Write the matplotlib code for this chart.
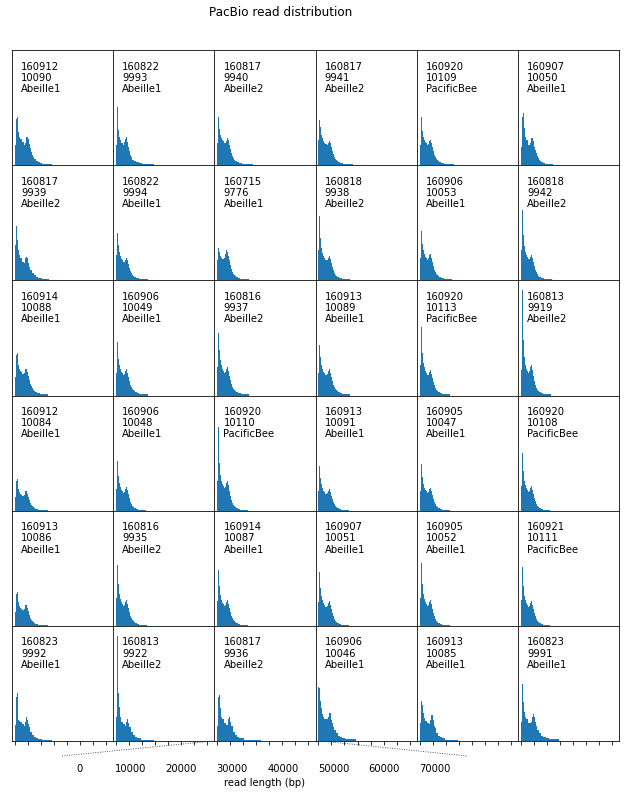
import numpy as np
import matplotlib
matplotlib.use("Agg")
import matplotlib.pyplot as plt
from matplotlib.lines import Line2D

# ---- data -------------------------------------------------------------
dates = ["160912", "160822", "160817", "160817", "160920", "160907",
         "160817", "160822", "160715", "160818", "160906", "160818",
         "160914", "160906", "160816", "160913", "160920", "160813",
         "160912", "160906", "160920", "160913", "160905", "160920",
         "160913", "160816", "160914", "160907", "160905", "160921",
         "160823", "160813", "160817", "160906", "160913", "160823"]
run_ids = ["10090", "9993", "9940", "9941", "10109", "10050",
           "9939", "9994", "9776", "9938", "10053", "9942",
           "10088", "10049", "9937", "10089", "10113", "9919",
           "10084", "10048", "10110", "10091", "10047", "10108",
           "10086", "9935", "10087", "10051", "10052", "10111",
           "9992", "9922", "9936", "10046", "10085", "9991"]
species = ["Abeille1", "Abeille1", "Abeille2", "Abeille2", "PacificBee", "Abeille1",
           "Abeille2", "Abeille1", "Abeille1", "Abeille2", "Abeille1", "Abeille2",
           "Abeille1", "Abeille1", "Abeille2", "Abeille1", "PacificBee", "Abeille2",
           "Abeille1", "Abeille1", "PacificBee", "Abeille1", "Abeille1", "PacificBee",
           "Abeille1", "Abeille2", "Abeille1", "Abeille1", "Abeille1", "PacificBee",
           "Abeille1", "Abeille2", "Abeille2", "Abeille1", "Abeille1", "Abeille1"]

bin_width = 770  # bp
# histogram counts per run (consecutive bins starting at 0 bp)
counts = [
    [20,46,48,33,28,26,26,23,23,20,22,28,28,26,21,17,13,10,8,6,6,4,4,3,3,2,2,1,1,1,1,1,1,1,1,1,1],
    [20,58,35,28,25,22,22,20,23,26,28,23,18,14,10,8,5,5,4,4,3,3,3,2,2,2,1,1,1,1,1,1,1,1,1,1,1,1],
    [22,48,36,30,27,25,24,22,22,24,27,25,20,16,12,9,7,5,4,4,3,3,2,2,2,1,1,1,1,1,1,1,1,1,1,1],
    [25,45,38,30,27,24,22,21,20,22,24,22,18,14,11,8,6,5,4,3,3,2,2,2,1,1,1,1,1,1,1,1,1,1],
    [20,48,34,28,25,23,22,20,21,24,25,22,18,14,10,8,6,5,4,3,3,2,2,2,1,1,1,1,1,1,1,1,1,1],
    [18,48,52,37,28,25,25,20,20,22,27,27,24,18,15,12,9,7,5,4,3,3,2,2,1,1,1,1,1,1,1,1],

    [35,54,40,30,25,22,22,18,18,17,22,23,22,17,13,10,10,7,7,5,5,3,3,2,2,2,2,1,1,1,1,1,1,1],
    [25,47,35,28,24,21,20,18,18,20,22,20,16,12,9,7,5,4,3,3,2,2,2,1,1,1,1,1,1,1,1,1],
    [20,32,28,24,22,21,21,22,26,30,28,24,20,15,11,8,6,5,4,3,3,2,2,1,1,1,1,1,1,1,1,1],
    [30,64,42,32,27,24,22,20,20,22,24,21,17,13,10,7,5,4,3,3,2,2,2,1,1,1,1,1,1,1,1],
    [22,49,36,30,26,23,22,20,22,25,26,22,18,14,10,8,6,5,4,3,3,2,2,2,1,1,1,1,1,1,1,1],
    [30,70,45,34,28,25,23,21,21,23,25,22,18,14,10,8,6,4,3,3,2,2,2,1,1,1,1,1,1,1,1],

    [18,40,42,30,26,24,23,21,21,22,26,26,23,19,15,11,9,7,5,4,3,3,2,2,2,1,1,1,1,1,1,1,1],
    [22,53,36,30,26,23,22,20,21,24,26,22,18,14,10,8,6,5,4,3,3,2,2,1,1,1,1,1,1,1,1,1],
    [28,62,45,35,30,26,24,22,23,26,28,24,19,15,11,8,6,5,4,3,3,2,2,2,1,1,1,1,1,1,1,1],
    [22,50,38,30,26,23,22,20,21,24,26,22,18,14,10,8,6,5,4,3,3,2,2,1,1,1,1,1,1,1,1],
    [30,68,42,32,28,24,22,20,20,23,25,21,17,13,10,7,5,4,3,3,2,2,1,1,1,1,1,1,1,1],
    [25,105,55,38,30,26,24,22,24,28,30,25,19,14,10,7,5,4,3,3,2,2,1,1,1,1,1,1,1,1],

    [14,30,32,22,19,17,16,15,15,16,20,20,17,14,11,8,6,5,4,3,2,2,2,1,1,1,1,1,1,1,1,1,1],
    [22,50,35,28,24,21,20,18,19,22,24,21,17,13,9,7,5,4,3,3,2,2,1,1,1,1,1,1,1,1],
    [30,84,48,36,30,27,25,23,24,28,30,26,20,15,11,8,6,5,4,3,3,2,2,1,1,1,1,1,1,1,1],
    [20,45,33,27,23,20,19,17,18,20,22,19,15,12,9,7,5,4,3,3,2,2,1,1,1,1,1,1,1,1],
    [20,47,34,27,23,21,20,18,19,22,23,20,16,12,9,7,5,4,3,3,2,2,1,1,1,1,1,1,1,1],
    [25,58,40,30,26,23,21,19,20,23,25,21,17,13,10,7,5,4,3,3,2,2,1,1,1,1,1,1,1],

    [14,32,34,24,20,18,17,16,16,17,21,21,18,15,11,8,6,5,4,3,2,2,2,1,1,1,1,1,1,1,1,1,1],
    [28,61,42,32,27,24,22,20,21,24,26,22,18,14,10,8,6,5,4,3,3,2,2,1,1,1,1,1,1,1,1],
    [25,56,40,31,26,23,22,20,21,24,26,22,18,14,10,8,6,5,4,3,3,2,2,1,1,1,1,1,1,1,1],
    [24,54,38,30,26,23,21,19,20,23,25,21,17,13,10,7,5,4,3,3,2,2,1,1,1,1,1,1,1,1],
    [28,63,42,32,27,24,22,20,21,24,26,22,17,13,10,7,5,4,3,3,2,2,1,1,1,1,1,1,1,1],
    [26,59,40,30,26,23,21,19,20,23,25,21,17,13,10,7,5,4,3,3,2,2,1,1,1,1,1,1,1],

    [16,44,48,21,20,19,19,17,17,15,19,24,21,17,14,9,9,6,6,4,4,3,3,2,2,2,2,1,1,1,1,1,1,1,1,1,1],
    [24,105,48,34,24,19,19,17,17,15,19,22,18,14,14,9,9,6,6,4,4,3,3,3,3,1,1,1,1,1,1,1,1,1,1,1,1,1],
    [15,44,46,33,24,22,22,18,18,16,16,22,24,19,15,15,9,9,6,6,4,4,3,3,3,3,3,1,1,1,1,1,1,1,1,1,1,1,1,1,1,1,1,1],
    [54,53,40,33,27,24,22,22,22,24,28,28,21,18,14,11,11,8,8,5,5,4,4,3,3,3,2,2,2,2,2,2,2,2,2,2,2],
    [18,40,36,28,23,20,20,18,18,17,21,26,26,21,15,13,8,8,5,5,4,4,3,3,3,1,1,1,1,1,1,1,1,1,1,1,1,1],
    [19,57,39,29,24,22,22,18,18,18,19,24,27,24,19,15,11,11,8,8,5,5,4,4,4,3,3,3,2,2,2,2,2,2,2,2,2,2],
]

x_ticks = [0, 10000, 20000, 30000, 40000, 50000, 60000, 70000]
x_tick_labels = ["0", "10000", "20000", "30000", "40000", "50000", "60000", "70000"]
title = "PacBio read distribution"
x_label = "read length (bp)"

# ---- figure -----------------------------------------------------------
W, H, DPI = 629, 794, 72
plt.rcParams["font.family"] = ["DejaVu Sans"]
plt.rcParams["font.size"] = 10
fig = plt.figure(figsize=(W / DPI, H / DPI), dpi=DPI)

nrows, ncols = 6, 6
gs = fig.add_gridspec(nrows, ncols, left=12 / W, right=619 / W,
                      bottom=1 - 741 / H, top=1 - 50 / H,
                      wspace=0, hspace=0)

cell_xlim = (-2300, 75500)
ymax = 115

for i in range(nrows * ncols):
    r, c = divmod(i, ncols)
    ax = fig.add_subplot(gs[r, c])
    vals = np.asarray(counts[i], dtype=float)
    edges = np.arange(len(vals) + 1) * bin_width
    ax.stairs(vals, edges, fill=True, color="#1f77b4", linewidth=0)
    ax.set_xlim(*cell_xlim)
    ax.set_ylim(0, ymax)
    ax.set_yticks([])
    ax.set_xticks(x_ticks)
    if r == nrows - 1:
        ax.tick_params(axis="x", labelbottom=False, length=3.5, width=0.8)
    else:
        ax.tick_params(axis="x", bottom=False, labelbottom=False)
    for sp in ax.spines.values():
        sp.set_linewidth(0.8)
    ax.text(0.09, 0.9, f"{dates[i]}\n{run_ids[i]}\n{species[i]}",
            transform=ax.transAxes, ha="left", va="top", fontsize=10,
            linespacing=1.15)

fig.text(281 / W, 1 - 13 / H, title, ha="center", va="center", fontsize=12)

# common x axis below the grid
bax = fig.add_axes([62 / W, 1 - 756 / H, 405 / W, 0.0001])
bax.set_xlim(-3550, 76330)
bax.set_xticks(x_ticks)
bax.set_xticklabels(x_tick_labels)
bax.set_yticks([])
for sp in bax.spines.values():
    sp.set_visible(False)
bax.tick_params(axis="x", length=0, pad=7.5, labelsize=10)
bax.set_xlabel(x_label, fontsize=10, labelpad=4)
bax.patch.set_visible(False)

# dotted connectors between the common axis and the grid
for (x0, y0), (x1, y1) in [((62, 756), (213, 741)), ((321, 741), (467, 756))]:
    fig.add_artist(Line2D([x0 / W, x1 / W], [1 - y0 / H, 1 - y1 / H],
                          transform=fig.transFigure, color="0.25",
                          linestyle=":", linewidth=0.9))

fig.savefig("out.png", dpi=DPI)
